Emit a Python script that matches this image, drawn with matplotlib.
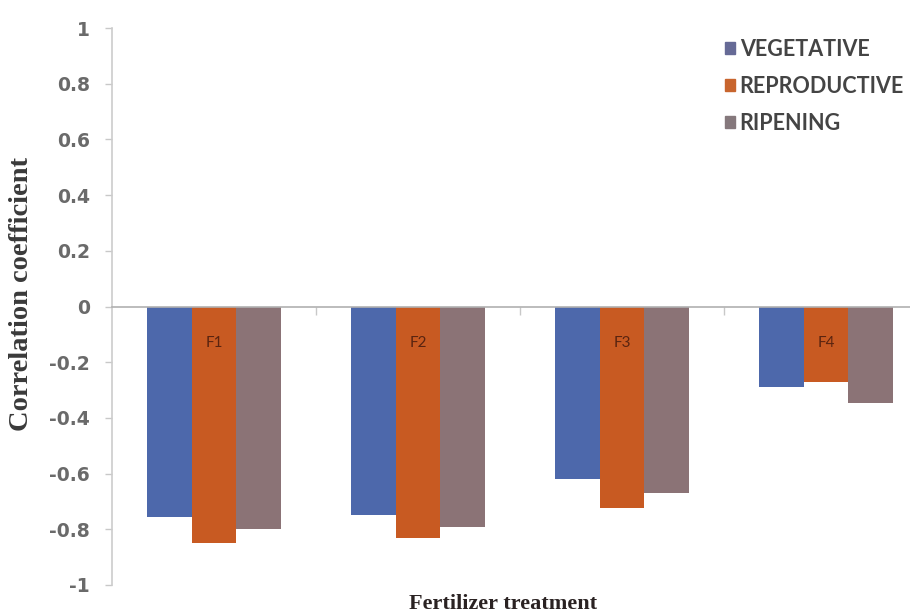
import matplotlib
matplotlib.use("Agg")
import matplotlib.pyplot as plt
import numpy as np

treatments = ["F1", "F2", "F3", "F4"]
stages = ["VEGETATIVE", "REPRODUCTIVE", "RIPENING"]
vegetative = [-0.755, -0.75, -0.62, -0.29]
reproductive = [-0.85, -0.83, -0.725, -0.27]
ripening = [-0.80, -0.79, -0.67, -0.345]
y_ticks = [-1, -0.8, -0.6, -0.4, -0.2, 0, 0.2, 0.4, 0.6, 0.8, 1]
y_tick_labels = ["-1", "-0.8", "-0.6", "-0.4", "-0.2", "0", "0.2", "0.4", "0.6", "0.8", "1"]

colors = ["#4d68ab", "#c85a22", "#8b7376"]
legend_colors = ["#666a96", "#c8652e", "#85787c"]

fig = plt.figure(figsize=(9.10, 6.14), dpi=100)
ax = fig.add_axes([112 / 910, 1 - 585 / 614, 816 / 910, 557 / 614])

x = np.arange(len(treatments))
w = 0.22
series = [vegetative, reproductive, ripening]
for i, (vals, c) in enumerate(zip(series, colors)):
    ax.bar(x + (i - 1) * w, vals, width=w, color=c, zorder=2)

for xi, name in zip(x, treatments):
    ax.text(xi, -0.13, name, ha="center", va="center", fontsize=11,
            color="#5a2410", family="Lato", zorder=3)

ax.set_xlim(-0.5, 3.5)
ax.set_ylim(-1, 1)
ax.set_yticks(y_ticks)
ax.set_yticklabels(y_tick_labels, family="DejaVu Sans", fontsize=13.5,
                   fontweight="bold", color="#6a6a6a")
ax.tick_params(axis="y", length=5, width=1, color="#c8c8c8", pad=11)

ax.spines["bottom"].set_position(("data", 0))
ax.spines["bottom"].set_color("#b0b0b0")
ax.spines["bottom"].set_linewidth(1.2)
ax.spines["bottom"].set_zorder(4)
ax.spines["left"].set_color("#cccccc")
ax.spines["left"].set_linewidth(1.2)
ax.spines["top"].set_visible(False)
ax.spines["right"].set_visible(False)
ax.set_xticks([0.5, 1.5, 2.5])
ax.set_xticklabels([])
ax.tick_params(axis="x", length=6, width=1, color="#c8c8c8", direction="out")

fig.text(22 / 910, 1 - 294 / 614, "Correlation coefficient", rotation=90,
         ha="center", va="center", family="Liberation Serif",
         fontweight="bold", fontsize=20.5, color="#3a3a3a")
fig.text(503 / 910, 1 - 604 / 614, "Fertilizer treatment", ha="center",
         va="center", family="Liberation Serif", fontweight="bold",
         fontsize=16, color="#2a2222")

handles = [plt.Rectangle((0, 0), 1, 1, color=c) for c in legend_colors]
leg = fig.legend(handles, stages, loc="upper left",
                 bbox_to_anchor=(716 / 910, 1 - 30 / 614), frameon=False,
                 handlelength=0.5, handleheight=0.5, handletextpad=0.2,
                 labelspacing=0.75, borderaxespad=0,
                 prop={"family": "Lato", "size": 15.5, "weight": "bold"})
for t in leg.get_texts():
    t.set_color("#444444")

fig.savefig("out.png", dpi=100, facecolor="white")
